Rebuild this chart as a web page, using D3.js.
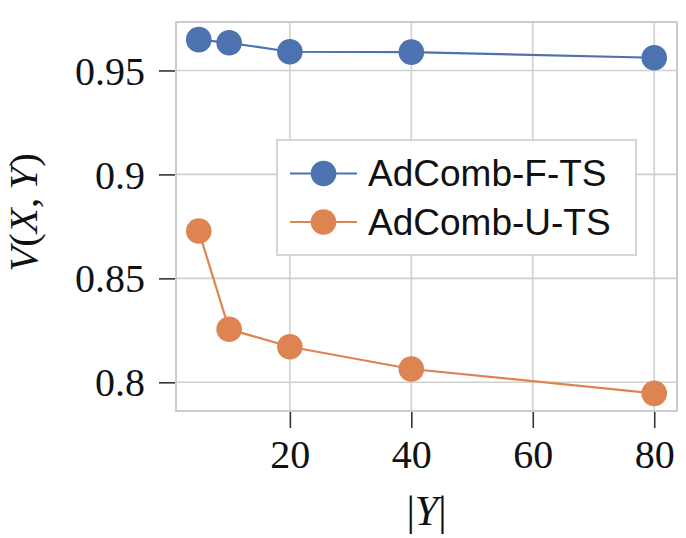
<!DOCTYPE html>
<html>
<head>
<meta charset="utf-8">
<script src="https://cdn.jsdelivr.net/npm/d3@7"></script>
<style>
  body { margin: 0; background: #fff; }
  svg { display: block; }
</style>
</head>
<body>
<svg id="chart" width="686" height="538"></svg>
<script>
// data
var sizes = [5, 10, 20, 40, 80];
var fts = [0.9648, 0.9633, 0.9590, 0.9588, 0.9561];
var uts = [0.8728, 0.8255, 0.8171, 0.8064, 0.7947];
var seriesNames = ['AdComb-F-TS', 'AdComb-U-TS'];
var seriesColors = ['#4c72b0', '#dd8452'];
var xTicks = [20, 40, 60, 80];
var yTicks = [0.8, 0.85, 0.9, 0.95];
var yTickLabels = ['0.8', '0.85', '0.9', '0.95'];

var svg = d3.select('#chart');
// plot box (note: "top" is reserved on window, so use other names)
var padL = 176, padT = 22, padR = 677, padB = 411;
var w = padR - padL, h = padB - padT;

var x = d3.scaleLinear().domain([1.25, 83.75]).range([0, w]);
var y = d3.scaleLinear().domain([0.7862, 0.9733]).range([h, 0]);

var g = svg.append('g').attr('transform', 'translate(' + padL + ',' + padT + ')');

// grid
g.append('g').selectAll('line').data(xTicks).enter().append('line')
  .attr('x1', function(d) { return x(d); }).attr('x2', function(d) { return x(d); })
  .attr('y1', 0).attr('y2', h)
  .attr('stroke', '#d0d0d0').attr('stroke-width', 1.6);
g.append('g').selectAll('line').data(yTicks).enter().append('line')
  .attr('y1', function(d) { return y(d); }).attr('y2', function(d) { return y(d); })
  .attr('x1', 0).attr('x2', w)
  .attr('stroke', '#d0d0d0').attr('stroke-width', 1.6);

// axes
var xAxis = d3.axisBottom(x).tickValues(xTicks).tickSize(17).tickSizeOuter(0).tickPadding(12);
var yAxis = d3.axisLeft(y).tickValues(yTicks).tickSize(17).tickSizeOuter(0).tickPadding(14)
  .tickFormat(function(d, i) { return yTickLabels[i]; });

var gx = g.append('g').attr('transform', 'translate(0,' + h + ')').call(xAxis);
var gy = g.append('g').call(yAxis);
[gx, gy].forEach(function(ax) {
  ax.select('.domain').remove();
  ax.selectAll('line').attr('stroke', '#333').attr('stroke-width', 1.6);
  ax.selectAll('text').attr('fill', '#111')
    .style('font-family', '"Liberation Serif", "DejaVu Serif", serif').style('font-size', '40px');
});
gy.selectAll('text').attr('dy', '0.34em');

// frame
g.append('rect').attr('x', 0).attr('y', 0).attr('width', w).attr('height', h)
  .attr('fill', 'none').attr('stroke', '#cccccc').attr('stroke-width', 2);

// series
var series = [fts, uts];
var line = d3.line().x(function(d, i) { return x(sizes[i]); }).y(function(d) { return y(d); });
series.forEach(function(vals, k) {
  g.append('path').datum(vals).attr('d', line)
    .attr('fill', 'none').attr('stroke', seriesColors[k]).attr('stroke-width', 2.2);
  g.append('g').selectAll('circle').data(vals).enter().append('circle')
    .attr('cx', function(d, i) { return x(sizes[i]); })
    .attr('cy', function(d) { return y(d); })
    .attr('r', 12.8).attr('fill', seriesColors[k]);
});

// legend
var lg = svg.append('g').attr('transform', 'translate(277,140)');
lg.append('rect').attr('x', 0).attr('y', 0).attr('width', 359).attr('height', 115)
  .attr('fill', '#fff').attr('stroke', '#cccccc').attr('stroke-width', 1.6);
seriesNames.forEach(function(name, k) {
  var yy = 33.5 + k * 48.5;
  lg.append('line').attr('x1', 13).attr('x2', 80).attr('y1', yy).attr('y2', yy)
    .attr('stroke', seriesColors[k]).attr('stroke-width', 2.2);
  lg.append('circle').attr('cx', 46.5).attr('cy', yy).attr('r', 12.8).attr('fill', seriesColors[k]);
  lg.append('text').attr('x', 91).attr('y', yy).attr('dy', '0.35em')
    .style('font-family', '"Liberation Sans", Arial, sans-serif').style('font-size', '37px')
    .attr('fill', '#111').text(name);
});

// axis titles
var serif = '"Liberation Serif", "DejaVu Serif", serif';
var yl = svg.append('text')
  .attr('transform', 'translate(37,' + (padT + h / 2 - 4) + ') rotate(-90)')
  .attr('text-anchor', 'middle')
  .style('font-family', serif).style('font-size', '41px').attr('fill', '#111');
yl.append('tspan').style('font-style', 'italic').text('V');
yl.append('tspan').text('(');
yl.append('tspan').style('font-style', 'italic').text('X');
yl.append('tspan').text(',\u2009');
yl.append('tspan').style('font-style', 'italic').text('Y');
yl.append('tspan').text(')');

var xl = svg.append('text')
  .attr('x', padL + w / 2).attr('y', 525)
  .attr('text-anchor', 'middle')
  .style('font-family', serif).style('font-size', '42px').attr('fill', '#111');
xl.append('tspan').text('|');
xl.append('tspan').style('font-style', 'italic').text('Y');
xl.append('tspan').text('|');
</script>
</body>
</html>
